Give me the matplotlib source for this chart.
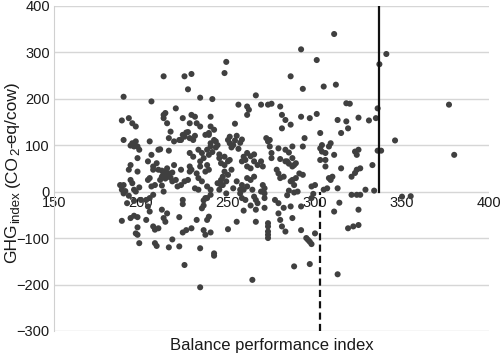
import matplotlib
matplotlib.use("Agg")
import matplotlib.pyplot as plt
import matplotlib.transforms as mtransforms

plt.rcParams['font.family'] = ['Liberation Sans', 'DejaVu Sans']

# Balance performance index (x) and GHG index (y) per cow
pts = [
    # isolated high / right points
    (311,339),(292,306),(301,283),(341,296),(337,274),(249,279),(248,255),(213,248),(225,248),(229,253),
    (227,220),(286,248),(293,221),(305,226),(312,230),(190,204),(266,207),(234,202),(241,199),(206,194),
    (377,187),(380,79),(346,110),(350,-11),(355,-10),(220,179),
    (336,179),(335,158),(331,153),(338,88),(336,88),(333,57),(334,2),(329,4),(325,159),(319,136),
    (318,190),(320,189),(318,151),(313,154),(315,126),(303,126),
    # 184-200
    (189,153),(193,158),(195,147),(197,140),(190,111),(195,104),(197,108),(198,97),(199,90),(196,97),
    (194,99),(198,72),(194,57),(193,47),(198,43),(194,25),(195,18),(188,14),(190,14),(189,4),
    (196,4),(199,9),(191,1),(190,-4),(197,0),
    (192,-25),(196,-20),(193,-9),(189,-63),(194,-57),(196,-52),(197,-90),(198,-55),(198,-77),(198,-93),
    (199,-111),(200,-18),(203,-18),(204,-32),(205,-43),(203,-61),(205,-14),(207,-7),
    # 200-210
    (205,108),(204,65),(207,54),(209,61),(207,47),(206,79),(204,25),(205,29),(208,14),(206,11),
    (207,-75),(208,-82),(208,-111),(209,-117),(210,-79),
    # 210-220
    (213,165),(213,158),(214,169),(215,147),(217,129),(216,115),(211,91),(216,88),(219,108),(210,90),
    (210,47),(211,25),(212,32),(213,39),(213,36),(214,43),(215,32),(216,39),(214,28),(217,30),
    (218,22),(212,45),(215,50),(218,41),(219,57),(220,25),(221,11),(212,13),(213,0),(212,-39),
    (213,-57),(214,-65),(215,-47),(216,-120),(218,-103),
    # 220-235
    (224,158),(229,165),(231,161),(228,147),(232,147),(234,140),(222,111),(224,122),(225,118),(226,127),
    (228,115),(230,111),(231,120),(227,128),(223,111),(228,83),(230,75),(233,90),(235,83),(236,72),
    (234,65),(234,54),(223,47),(228,54),(229,47),(228,43),(227,25),(225,22),(223,14),(233,29),
    (235,22),(231,7),(233,4),(232,39),(224,-18),(224,-27),(222,-55),(222,-118),(224,-88),(225,-158),
    (226,-83),(229,-79),(232,-61),(234,-122),(234,-206),(236,-30),(235,-36),
    # 235-250
    (237,122),(239,122),(240,140),(242,133),(239,126),(240,161),(240,104),(242,111),(243,108),(244,100),
    (238,90),(239,79),(240,97),(241,85),(243,95),(245,80),(237,43),(238,57),(239,47),(245,72),
    (248,75),(250,65),(251,68),(246,61),(248,57),(248,43),(250,36),(252,47),(244,18),(247,14),
    (249,22),(238,11),(240,4),(246,25),(247,32),(240,-7),(238,-14),(236,-19),(237,-14),(236,-83),
    (237,-93),(238,-61),(239,-54),(240,-88),(242,-133),(242,-138),(245,4),(246,14),
    # 250-262
    (250,111),(251,118),(251,104),(252,95),(253,100),(254,110),(255,120),(256,92),(257,105),(258,112),
    (254,146),(256,187),(255,22),(258,14),(259,4),(257,4),(253,7),(261,11),(258,65),(261,54),
    (263,50),(261,29),(263,25),(265,32),(261,83),(259,75),(260,68),(250,-81),(249,-4),(255,-65),
    (257,-4),(258,-14),(260,-18),(259,-41),
    # 262-275
    (261,183),(262,176),(261,165),(263,76),(265,65),(267,57),(269,65),(270,54),(265,80),(264,4),
    (265,-11),(266,-18),(267,-25),(270,14),(271,7),(269,0),(271,-4),(271,-14),(263,-30),(266,-65),
    (266,-39),(264,-190),(272,115),(273,108),(274,111),(274,97),(275,83),(275,72),(269,187),(273,187),
    (275,189),(273,-68),(273,-75),(273,-86),(273,-93),(273,-100),(271,-35),
    # 275-290
    (280,183),(281,165),(283,154),(286,144),(281,136),(279,93),(283,90),(287,97),(285,84),(280,70),
    (283,65),(285,60),(287,72),(284,65),(288,57),(289,61),(287,54),(278,47),(279,39),(280,29),
    (282,32),(287,25),(289,29),(288,14),(286,22),(285,2),(288,-2),(277,-18),(279,-25),(279,-47),
    (280,-61),(281,-75),(282,-35),(284,-8),(286,-32),(288,-161),(287,-57),(283,-86),
    # 290-303
    (292,161),(297,158),(301,167),(294,115),(293,97),(293,36),(290,0),(291,39),(292,-32),(292,-83),
    (295,-100),(296,-104),(297,-108),(298,-113),(297,-156),(298,-14),(300,14),(298,11),(300,-90),(299,-5),
    (303,93),(304,86),(306,83),(308,97),(309,104),(304,100),(303,68),(306,68),
    # 303-320
    (311,79),(310,32),(309,25),(308,29),(307,7),(305,4),(313,7),(306,54),(311,-43),(313,-178),
    (314,-24),(315,50),
    # 320-335
    (323,86),(324,79),(325,90),(324,47),(323,40),(321,32),(326,50),(321,-7),(324,-7),(319,-79),
    (322,-75),(325,-72),(325,-39),(326,-7),
]
bpi = [p[0] for p in pts]
ghg = [p[1] for p in pts]

x_ticks = [150, 200, 250, 300, 350, 400]
y_ticks = [-300, -200, -100, 0, 100, 200, 300, 400]
y_ticklabels = ['\u2212300', '\u2212200', '\u2212100', '0', '100', '200', '300', '400']
dashed_x = 303     # threshold line below zero
solid_x = 336.5    # threshold line above zero

fig = plt.figure(figsize=(5.0, 3.54), dpi=100)
ax = fig.add_axes([0.108, 0.065, 0.870, 0.919])

ax.set_xlim(150, 400)
ax.set_ylim(-300, 400)
ax.set_yticks(y_ticks)
ax.set_yticklabels(y_ticklabels)
ax.set_xticks(x_ticks)
ax.yaxis.grid(True, color='#d6d6d6', linewidth=1.0)
ax.set_axisbelow(True)

for s in ['top', 'right']:
    ax.spines[s].set_visible(False)
ax.spines['left'].set_color('#d0d0d0')
ax.spines['bottom'].set_position(('data', 0))
ax.spines['bottom'].set_visible(False)

ax.tick_params(axis='both', length=0, labelsize=10.5, colors='#1a1a1a')
ax.tick_params(axis='x', pad=3)
ax.tick_params(axis='y', pad=3)

ax.scatter(bpi, ghg, s=19, color='#404040', edgecolors='none', zorder=3)

ax.plot([dashed_x, dashed_x], [-300, 0], color='#111111', linewidth=1.6,
        linestyle=(0, (3.2, 1.9)), zorder=4)
ax.plot([solid_x, solid_x], [0, 400], color='#111111', linewidth=1.6, zorder=4)

ax.set_xlabel('Balance performance index', fontsize=12, color='#1a1a1a')
ax.xaxis.set_label_coords(0.5, -0.022)
ax.xaxis.label.set_va('top')

# composite rotated y label with large subscripts
pieces = [("GHG", 12.5, 0), ("index", 9.5, 3), ("(CO", 12.5, 0), ("2", 9.5, 3), ("-eq/cow)", 12.5, 0)]
gaps = [0, 0, 4, 0, 0]
renderer = fig.canvas.get_renderer()
ident = mtransforms.IdentityTransform()
texts = []
lengths = []
for txt, fs, off in pieces:
    t = fig.text(0, 0, txt, fontsize=fs, rotation=90, rotation_mode='anchor',
                 ha='left', va='baseline', color='#1a1a1a', transform=ident)
    lengths.append(t.get_window_extent(renderer).height)
    texts.append(t)
total = sum(lengths) + sum(gaps)
center_y = 354 - 172
base_x = 16.5
ycur = center_y - total / 2
for t, (txt, fs, off), L, g in zip(texts, pieces, lengths, gaps):
    ycur += g
    t.set_position((base_x + off, ycur))
    ycur += L

fig.savefig('out.png', dpi=100)
